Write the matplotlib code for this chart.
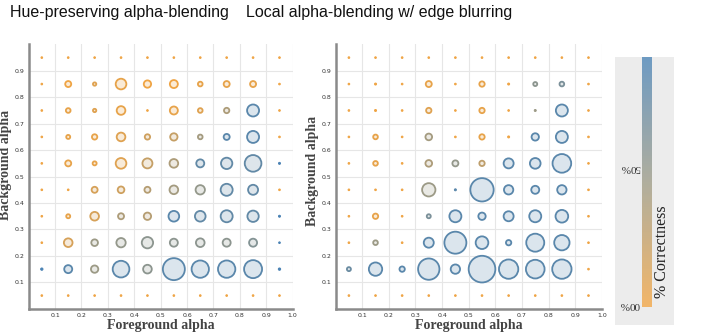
import numpy as np
import matplotlib
matplotlib.use("Agg")
import matplotlib.pyplot as plt
from matplotlib.colors import LinearSegmentedColormap, to_rgb

# grid centres (foreground alpha = x, background alpha = y)
fg_alpha = [0.05, 0.15, 0.25, 0.35, 0.45, 0.55, 0.65, 0.75, 0.85, 0.95]
bg_alpha = [0.95, 0.85, 0.75, 0.65, 0.55, 0.45, 0.35, 0.25, 0.15, 0.05]  # rows top -> bottom

titles = ["Hue-preserving alpha-blending", "Local alpha-blending w/ edge blurring"]

# bubble radius (relative) per cell, rows top -> bottom
hue_size = [
    [2.5, 2.5, 2.5, 2.5, 2.5, 2.5, 2.5, 2.5, 2.5, 2.5],
    [2.5, 9, 5, 16, 11, 12, 7, 9, 9, 2.5],
    [2.5, 7, 5, 13, 2.5, 12, 7, 8, 18, 2.5],
    [2.5, 6, 8, 13, 8, 11, 7, 9, 18, 2.5],
    [2.5, 9, 6, 16, 15, 13, 12, 17, 25, 3],
    [2.5, 2.5, 9, 10, 9, 13, 14, 18, 15, 2.5],
    [2.5, 6, 13, 9, 11, 16, 16, 18, 17, 3],
    [2.5, 13, 10, 14, 17, 12, 13, 12, 12, 2.5],
    [3.5, 12, 11, 25, 13, 33, 26, 26, 27, 3.5],
    [2.5, 2.5, 2.5, 2.5, 2.5, 2.5, 2.5, 2.5, 2.5, 2.5],
]
# correctness 0..1 per cell
hue_corr = [
    [0, 0, 0, 0, 0, 0, 0, 0, 0, 0],
    [0, 0, 0.1, 0.05, 0, 0, 0.05, 0.05, 0.05, 0],
    [0, 0.05, 0.1, 0.05, 0, 0.05, 0.1, 0.4, 0.9, 0],
    [0, 0.05, 0.05, 0.1, 0.2, 0.25, 0.45, 0.9, 0.9, 0],
    [0, 0.05, 0.05, 0.1, 0.25, 0.4, 0.85, 0.85, 0.85, 1],
    [0, 0, 0.15, 0.2, 0.35, 0.45, 0.55, 0.85, 0.85, 0],
    [0, 0.05, 0.15, 0.4, 0.35, 0.9, 0.85, 0.85, 0.85, 1],
    [0, 0.15, 0.5, 0.55, 0.6, 0.6, 0.6, 0.6, 0.65, 1],
    [1, 0.9, 0.5, 0.9, 0.6, 0.9, 0.9, 0.9, 0.9, 1],
    [0, 0, 0, 0, 0, 0, 0, 0, 0, 0],
]

local_size = [
    [2.5, 2.5, 2.5, 2.5, 2.5, 2.5, 2.5, 2.5, 2.5, 2.5],
    [2.5, 3, 2.5, 9, 2.5, 8, 3, 6, 7, 2.5],
    [2.5, 3, 2.5, 8, 2.5, 8, 2.5, 3, 18, 2.5],
    [2.5, 7, 2.5, 10, 2.5, 8, 3, 11, 18, 2.5],
    [2.5, 7, 2.5, 10, 9, 8, 15, 16, 28, 2.5],
    [2.5, 2.5, 2.5, 20, 3, 35, 14, 12, 14, 2.5],
    [2.5, 8, 2.5, 6, 18, 11, 15, 18, 19, 2.5],
    [2.5, 7, 2.5, 15, 33, 19, 8, 27, 23, 2.5],
    [6, 20, 8, 32, 14, 40, 29, 28, 29, 2.5],
    [2.5, 2.5, 2.5, 2.5, 2.5, 2.5, 2.5, 2.5, 2.5, 2.5],
]
local_corr = [
    [0, 0, 0, 0, 0, 0, 0, 0, 0, 0],
    [0, 0, 0, 0.05, 0, 0.05, 0, 0.6, 0.7, 0],
    [0, 0, 0, 0.1, 0, 0.05, 0, 0.5, 0.9, 0],
    [0, 0.05, 0, 0.45, 0, 0.05, 0, 0.9, 0.9, 0],
    [0, 0.05, 0, 0.4, 0.55, 0.3, 0.9, 0.9, 0.9, 0],
    [0, 0, 0, 0.5, 0.9, 0.9, 0.9, 0.9, 0.9, 0],
    [0, 0.05, 0, 0.7, 0.9, 0.9, 0.9, 0.9, 0.9, 0],
    [0, 0.5, 0, 0.9, 0.9, 0.9, 0.9, 0.9, 0.9, 0],
    [0.8, 0.9, 0.9, 0.9, 0.9, 0.9, 0.9, 0.9, 0.9, 0],
    [0, 0, 0, 0, 0, 0, 0, 0, 0, 0],
]

cmap = LinearSegmentedColormap.from_list("corr", ["#efa444", "#9c9a86", "#4a82b4"])

fig = plt.figure(figsize=(7.08, 3.33), dpi=100)

def bubble_panel(ax, sizes, corr, ylab_y):
    X, Y = np.meshgrid(fg_alpha, bg_alpha)
    r = np.array(sizes, dtype=float).ravel()
    c = np.array(corr, dtype=float).ravel()
    edge = cmap(c)
    face = np.array([tuple(0.22 * np.array(to_rgb(e)) + 0.78) for e in edge])
    tiny = r <= 3.5
    face[tiny] = edge[tiny, :3]
    lw = np.where(tiny, 0.7, 1.3)
    order = np.argsort(-r)
    ax.scatter(X.ravel()[order], Y.ravel()[order], s=(0.48 * r[order]) ** 2,
               c=face[order], edgecolors=edge[order], linewidths=lw[order], zorder=3)
    ax.set_xlim(0, 1.0)
    ax.set_ylim(0, 1.0)
    ax.set_xticks(np.arange(1, 11) / 10)
    ax.set_xticklabels(["0.1", "0.2", "0.3", "0.4", "0.5", "0.6", "0.7", "0.8", "0.9", "1.0"])
    ax.set_yticks(np.arange(1, 10) / 10)
    ax.set_yticklabels(["0.1", "0.2", "0.3", "0.4", "0.5", "0.6", "0.7", "0.8", "0.9"])
    ax.tick_params(length=0, labelsize=4.5, pad=3, labelcolor="#333333")
    ax.grid(True, color="#e6e6e6", linewidth=0.8, zorder=0)
    ax.set_axisbelow(True)
    for s in ["top", "right"]:
        ax.spines[s].set_visible(False)
    for s in ["left", "bottom"]:
        ax.spines[s].set_color("#8a8a8a")
        ax.spines[s].set_linewidth(1.8)
    ax.set_xlabel("Foreground alpha", family="Liberation Serif", fontsize=10,
                  fontweight="bold", color="#444444")
    ax.set_ylabel("Background alpha", family="Liberation Serif", fontsize=10,
                  fontweight="bold", color="#444444")
    ax.yaxis.set_label_coords(-0.062, ylab_y)
    ax.xaxis.set_label_coords(0.5, -0.04)

ax1 = fig.add_axes([0.0404, 0.0727, 0.373, 0.794])
bubble_panel(ax1, hue_size, hue_corr, 0.545)
ax2 = fig.add_axes([0.474, 0.0727, 0.376, 0.794])
bubble_panel(ax2, local_size, local_corr, 0.52)

fig.text(10 / 708, 1 - 12 / 333, titles[0], family="Liberation Sans", fontsize=11.5,
         va="center", ha="left", color="#111111")
fig.text(246 / 708, 1 - 12 / 333, titles[1], family="Liberation Sans", fontsize=11.5,
         va="center", ha="left", color="#111111")

# colour legend
bg = fig.add_axes([615 / 708, 1 - 325 / 333, 59 / 708, 268 / 333])
bg.set_facecolor("#ececec")
bg.set_xticks([])
bg.set_yticks([])
for s in bg.spines.values():
    s.set_visible(False)

cax = fig.add_axes([642 / 708, 1 - 307 / 333, 10 / 708, 250 / 333])
grad = np.linspace(0, 1, 256).reshape(-1, 1)
cax.imshow(grad, aspect="auto", cmap=cmap, origin="lower", alpha=0.8)
cax.set_xticks([])
cax.set_yticks([])
for s in cax.spines.values():
    s.set_visible(False)

fig.text(630 / 708, 1 - 305 / 333, "00%", rotation=180, family="Liberation Serif",
         fontsize=8, ha="center", va="center", color="#333333")
fig.text(630 / 708, 1 - 168 / 333, "50%", rotation=180, family="Liberation Serif",
         fontsize=8, ha="center", va="center", color="#333333")
fig.text(662 / 708, 1 - 252 / 333, "% Correctness", rotation=90, family="Liberation Serif",
         fontsize=11.5, ha="center", va="center", color="#222222")

fig.savefig("out.png", dpi=100)
